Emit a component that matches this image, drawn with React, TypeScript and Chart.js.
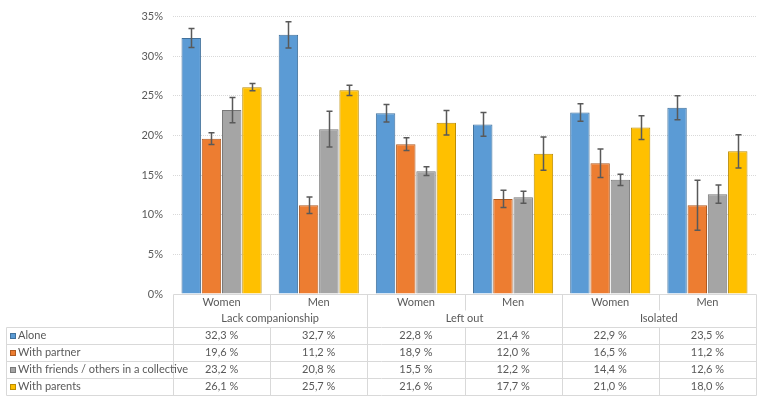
import React, { useEffect, useRef } from "react";
import { Chart, registerables } from "chart.js";

Chart.register(...registerables);

const categories = ["Women", "Men", "Women", "Men", "Women", "Men"];
const groups = ["Lack companionship", "Left out", "Isolated"];
const seriesNames = ["Alone", "With partner", "With friends / others in a collective", "With parents"];

const alone = [32.3, 32.7, 22.8, 21.4, 22.9, 23.5];
const partner = [19.6, 11.2, 18.9, 12.0, 16.5, 11.2];
const friends = [23.2, 20.8, 15.5, 12.2, 14.4, 12.6];
const parents = [26.1, 25.7, 21.6, 17.7, 21.0, 18.0];

const aloneErr = [1.2, 1.65, 1.1, 1.5, 1.1, 1.5];
const partnerErr = [0.75, 1.05, 0.8, 1.1, 1.8, 3.15];
const friendsErr = [1.6, 2.25, 0.55, 0.75, 0.7, 1.15];
const parentsErr = [0.45, 0.65, 1.55, 2.1, 1.5, 2.1];

const yTicks = [0, 5, 10, 15, 20, 25, 30, 35];

const fills = ["#5b9bd5", "#ed7d31", "#a5a5a5", "#ffc000"];
const borders = ["#41719c", "#ae5a21", "#787878", "#bc8c00"];

const seriesValues = [alone, partner, friends, parents];
const seriesErrors = [aloneErr, partnerErr, friendsErr, parentsErr];

const FONT = "Lato, 'Liberation Sans', sans-serif";

const fmt = (v: number) => v.toFixed(1).replace(".", ",") + " %";

const errorBarPlugin = {
  id: "errorBars",
  afterDatasetsDraw(chart: any) {
    const ctx = chart.ctx;
    const y = chart.scales.y;
    ctx.save();
    ctx.strokeStyle = "#595959";
    ctx.lineWidth = 1.5;
    chart.data.datasets.forEach((ds: any, di: number) => {
      const meta = chart.getDatasetMeta(di);
      meta.data.forEach((el: any, i: number) => {
        const v = ds.data[i];
        const e = seriesErrors[di][i];
        const yt = y.getPixelForValue(v + e);
        const yb = y.getPixelForValue(v - e);
        const cx = Math.round(el.x) + 0.5;
        ctx.beginPath();
        ctx.moveTo(cx, yt);
        ctx.lineTo(cx, yb);
        ctx.moveTo(cx - 3, yt);
        ctx.lineTo(cx + 3, yt);
        ctx.moveTo(cx - 3, yb);
        ctx.lineTo(cx + 3, yb);
        ctx.stroke();
      });
    });
    ctx.restore();
  },
};

const tablePlugin = {
  id: "dataTable",
  afterDraw(chart: any) {
    const ctx = chart.ctx;
    const x = chart.scales.x;
    const area = chart.chartArea;
    const n = categories.length;
    const step = x.getPixelForValue(1) - x.getPixelForValue(0);
    const left = x.getPixelForValue(0) - step / 2;
    const right = left + step * n;
    const top = area.bottom;
    const headerH = 33;
    const rowH = 17;
    const tableLeft = 6;
    const dataTop = top + headerH;
    const bottom = dataTop + rowH * seriesNames.length;
    const px = (v: number) => Math.round(v) + 0.5;

    ctx.save();
    ctx.strokeStyle = "#d9d9d9";
    ctx.lineWidth = 1;
    ctx.beginPath();
    ctx.moveTo(px(left), px(top));
    ctx.lineTo(px(right), px(top));
    for (let r = 0; r <= seriesNames.length; r++) {
      const yy = px(dataTop + r * rowH);
      ctx.moveTo(tableLeft + 0.5, yy);
      ctx.lineTo(px(right), yy);
    }
    ctx.moveTo(tableLeft + 0.5, px(dataTop));
    ctx.lineTo(tableLeft + 0.5, px(bottom));
    for (let i = 0; i <= n; i++) {
      const xx = px(left + i * step);
      if (i % 2 === 0) {
        ctx.moveTo(xx, px(top));
        ctx.lineTo(xx, px(bottom));
      } else {
        ctx.moveTo(xx, px(top));
        ctx.lineTo(xx, px(top + 16));
        ctx.moveTo(xx, px(dataTop));
        ctx.lineTo(xx, px(bottom));
      }
    }
    ctx.stroke();

    ctx.font = "11px " + FONT;
    ctx.textBaseline = "middle";
    ctx.textAlign = "center";
    ctx.fillStyle = "#595959";
    categories.forEach((c, i) => {
      ctx.fillText(c, x.getPixelForValue(i), top + 8.5);
    });
    groups.forEach((g, gi) => {
      ctx.fillText(g, left + step * (gi * 2 + 1), top + 24);
    });

    seriesNames.forEach((name, r) => {
      const cy = dataTop + r * rowH + 8.5;
      ctx.fillStyle = "#595959";
      seriesValues[r].forEach((v, i) => {
        ctx.textAlign = "center";
        ctx.fillText(fmt(v), x.getPixelForValue(i), cy);
      });
      ctx.fillStyle = fills[r];
      ctx.fillRect(10, Math.round(cy) - 3, 6, 6);
      ctx.strokeStyle = borders[r];
      ctx.strokeRect(10.5, Math.round(cy) - 2.5, 5, 5);
      ctx.fillStyle = "#595959";
      ctx.textAlign = "left";
      ctx.fillText(name, 18, cy);
    });
    ctx.restore();
  },
};

export default function App() {
  const ref = useRef<HTMLCanvasElement | null>(null);

  useEffect(() => {
    document.body.style.margin = "0";
    if (!ref.current) return;
    const chart = new Chart(ref.current, {
      type: "bar",
      data: {
        labels: categories,
        datasets: seriesNames.map((name, i) => ({
          label: name,
          data: seriesValues[i],
          backgroundColor: fills[i],
          borderColor: borders[i],
          borderWidth: 1,
          categoryPercentage: 0.833,
          barPercentage: 0.96,
        })),
      },
      options: {
        animation: false,
        responsive: true,
        maintainAspectRatio: false,
        layout: { padding: { left: 0, right: 6, top: 7, bottom: 107 } },
        plugins: { legend: { display: false }, tooltip: { enabled: false } },
        scales: {
          x: { display: false, offset: true, grid: { display: false } },
          y: {
            min: 0,
            max: 35,
            afterFit: (scale: any) => {
              scale.width = 173;
            },
            afterBuildTicks: (scale: any) => {
              scale.ticks = yTicks.map((v) => ({ value: v }));
            },
            ticks: {
              padding: 10,
              color: "#595959",
              font: { family: FONT, size: 11 },
              callback: (v: any) => v + "%",
            },
            grid: {
              color: (c: any) => (c.tick && c.tick.value === 0 ? "rgba(0,0,0,0)" : "#d9d9d9"),
              lineWidth: 1,
              drawTicks: false,
            },
            border: { display: false, dash: [1, 1] },
          },
        },
      },
      plugins: [errorBarPlugin, tablePlugin],
    });
    return () => chart.destroy();
  }, []);

  return (
    <div style={{ position: "relative", width: 762, height: 401 }}>
      <canvas ref={ref} />
    </div>
  );
}
